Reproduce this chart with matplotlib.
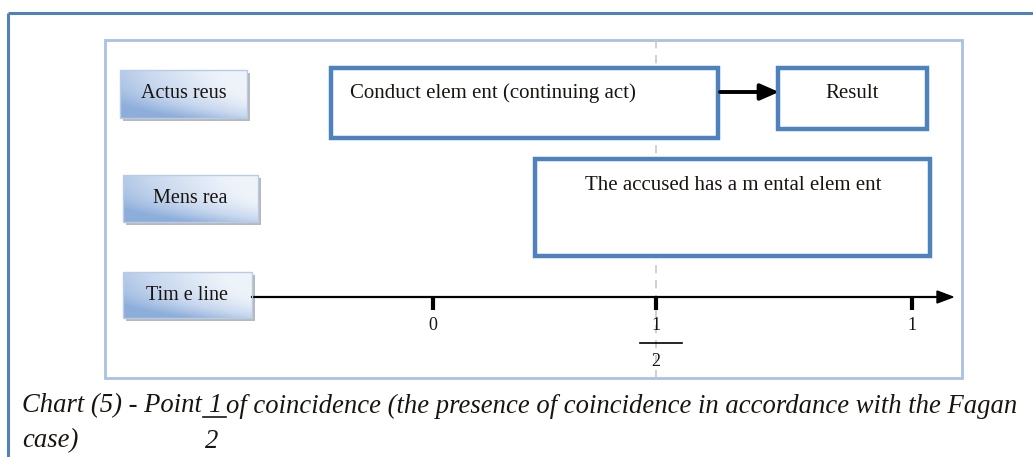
import matplotlib
matplotlib.use("Agg")
import matplotlib.pyplot as plt
import numpy as np
from matplotlib.patches import Rectangle, FancyArrowPatch, Polygon
from matplotlib.colors import LinearSegmentedColormap

# ---- data (text content) ----
row_labels = ["Actus reus", "Mens rea", "Tim e line"]
conduct_text = "Conduct elem ent (continuing act)"
result_text = "Result"
mental_text = "The accused has a m ental elem ent"
tick_labels = ["0", "1/2", "1"]
caption_pre = "Chart (5) - Point"
caption_num = "1"
caption_post = "of coincidence (the presence of coincidence in accordance with the Fagan"
caption_line2 = "case)"
caption_den = "2"

W, H = 1033, 457
fig = plt.figure(figsize=(W / 100, H / 100), dpi=100)
ax = fig.add_axes([0, 0, 1, 1])
ax.set_xlim(0, W)
ax.set_ylim(H, 0)
ax.axis("off")

SERIF = ["Liberation Serif", "DejaVu Serif"]
DARK = "#4F81BD"
TXT = "#1a1410"

# outer page border
ax.plot([7.5, W], [12.5, 12.5], color=DARK, lw=2.2, solid_capstyle="butt")
ax.plot([7.5, 7.5], [12.5, H], color=DARK, lw=2.2, solid_capstyle="butt")

# inner frame
ax.add_patch(Rectangle((105, 40), 857, 338, fill=False, ec="#A9C1E2", lw=2.0))

# dashed vertical line at 1/2
ax.plot([656, 656], [40, 378], color="#C8C8C8", lw=1.2, ls=(0, (5, 4)), zorder=1)

# gradient label boxes
cmap = LinearSegmentedColormap.from_list("g", ["#8DADDA", "#C6D7EE", "#EEF3FA"])
grad_x = np.linspace(0, 1, 64)[None, :]
grad_y = np.linspace(0, 1, 32)[:, None]
grad = np.clip(grad_x * 0.85 + 0.2 - 0.6 * grad_y ** 3 + 0.15 * (1 - grad_y), 0, 1)

label_boxes = [(120, 70, 127, 48), (123, 175, 135, 47), (123, 272, 129, 46)]
for (x, y, w, h), lab in zip(label_boxes, row_labels):
    ax.add_patch(Rectangle((x + 3, y + 3), w, h, fc="#8A8A8A", ec="none", alpha=0.6, zorder=2))
    ax.imshow(grad, cmap=cmap, extent=(x, x + w, y + h, y), aspect="auto",
              interpolation="bicubic", zorder=3)
    ax.add_patch(Rectangle((x, y), w, h, fill=False, ec="#B8CCE8", lw=1.0, zorder=4))
    ax.text(x + w / 2, y + h / 2, lab, ha="center", va="center", family=SERIF,
            fontsize=14.5, color=TXT, zorder=5)
ax.set_xlim(0, W)
ax.set_ylim(H, 0)

# content boxes
def box(x, y, w, h):
    ax.add_patch(Rectangle((x, y), w, h, fc="white", ec=DARK, lw=3.2, zorder=3))

BFS = 15
box(331, 68, 387, 70)
ax.text(350, 93, conduct_text, ha="left", va="center", family=SERIF, fontsize=BFS,
        color=TXT, zorder=5)
box(778, 68, 149, 61)
ax.text(852, 93, result_text, ha="center", va="center", family=SERIF, fontsize=BFS,
        color=TXT, zorder=5)
box(535, 159, 395, 97)
ax.text(733, 185, mental_text, ha="center", va="center", family=SERIF, fontsize=BFS,
        color=TXT, zorder=5)

# arrow conduct -> result
ax.add_patch(FancyArrowPatch((720, 92), (779, 92), arrowstyle="-|>,head_length=0.8,head_width=0.35",
                             mutation_scale=14, color="black", lw=2.8, zorder=4,
                             shrinkA=0, shrinkB=0))

# timeline
ax.plot([252, 940], [297, 297], color="black", lw=1.6, zorder=3)
ax.add_patch(Polygon([[937, 291], [953, 297], [937, 303]], closed=True, fc="black",
                     ec="black", zorder=3))
tick_px = [433, 656, 912]
TFS = 13
for xp, lab in zip(tick_px, tick_labels):
    ax.plot([xp, xp], [297, 310], color="black", lw=3, solid_capstyle="butt", zorder=4)
    if "/" in lab:
        n, d = lab.split("/")
        ax.text(xp, 326, n, ha="center", va="center", family=SERIF, fontsize=TFS,
                color=TXT, zorder=5)
        ax.plot([xp - 16, xp + 26], [343, 343], color="black", lw=1.2, zorder=5)
        ax.text(xp, 361, d, ha="center", va="center", family=SERIF, fontsize=TFS,
                color=TXT, zorder=5)
    else:
        ax.text(xp, 326, lab, ha="center", va="center", family=SERIF, fontsize=TFS,
                color=TXT, zorder=5)

# caption
fig.canvas.draw()
rend = fig.canvas.get_renderer()
cap_fs = 19.2
inv = ax.transData.inverted()
x0 = 22
t1 = ax.text(x0, 406, caption_pre, ha="left", va="center", family=SERIF, style="italic",
             fontsize=cap_fs, color=TXT)
bb = t1.get_window_extent(rend)
x1 = inv.transform((bb.x1, bb.y0))[0]
t2 = ax.text(x1 + 6, 406, caption_num, ha="left", va="center", family=SERIF, style="italic",
             fontsize=cap_fs, color=TXT)
bb2 = t2.get_window_extent(rend)
x2 = inv.transform((bb2.x1, bb2.y0))[0]
ax.plot([x1 + 1, x2 + 5], [417, 417], color=TXT, lw=1.2)
ax.text(x2 + 5, 406, caption_post, ha="left", va="center", family=SERIF, style="italic",
        fontsize=cap_fs, color=TXT)
ax.text(x0, 441, caption_line2, ha="left", va="center", family=SERIF, style="italic",
        fontsize=cap_fs, color=TXT)
ax.text(205, 441, caption_den, ha="left", va="center", family=SERIF, style="italic",
        fontsize=cap_fs, color=TXT)

fig.savefig("out.png", dpi=100)
